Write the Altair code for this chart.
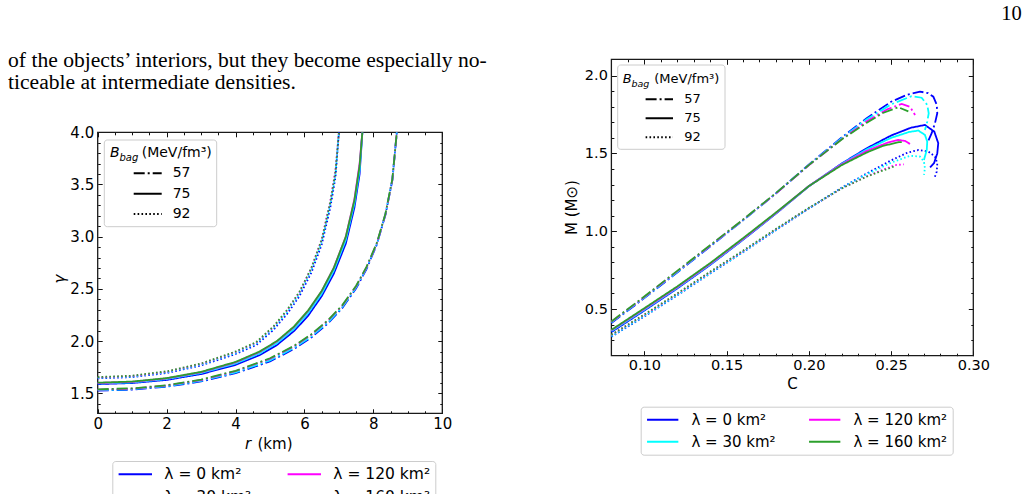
import altair as alt
import pandas as pd

W, H = 1028, 494

# ---------------------------------------------------------------- categories
LAM_DRAW = ["λ = 0 km²", "λ = 30 km²", "λ = 120 km²", "λ = 160 km²"]
LAM_COLORS = ["#0000ff", "#00ffff", "#ff00ff", "#2ca02c"]
BAGS = ["57", "75", "92"]
BAG_DASH = [[11, 3, 2, 3], [1, 0], [1.6, 2.3]]

# ---------------------------------------------------- adiabatic index gamma(r)
r_57 = [0, 1, 2, 3, 4, 5, 5.7, 6.2, 6.7, 7.1, 7.5, 7.8, 8.1, 8.35, 8.55, 8.68]
g57_l0 = [1.526, 1.535, 1.563, 1.613, 1.692, 1.805, 1.925, 2.035, 2.175, 2.318, 2.505, 2.69, 2.925, 3.21, 3.54, 4.0]
g57_l30 = [1.530, 1.539, 1.568, 1.619, 1.700, 1.815, 1.935, 2.045, 2.185, 2.328, 2.515, 2.70, 2.93, 3.215, 3.545, 4.0]
g57_l120 = [1.535, 1.544, 1.574, 1.627, 1.711, 1.830, 1.950, 2.060, 2.200, 2.340, 2.525, 2.705, 2.935, 3.215, 3.545, 4.0]
g57_l160 = [1.538, 1.547, 1.577, 1.630, 1.715, 1.835, 1.955, 2.065, 2.205, 2.345, 2.530, 2.71, 2.94, 3.22, 3.55, 4.0]

r_75 = [0, 1, 2, 3, 4, 4.7, 5.2, 5.7, 6.1, 6.5, 6.85, 7.2, 7.45, 7.6, 7.68]
g75_l0 = [1.588, 1.598, 1.628, 1.684, 1.772, 1.866, 1.962, 2.097, 2.240, 2.430, 2.645, 2.935, 3.28, 3.60, 4.0]
g75_l30 = [1.594, 1.604, 1.636, 1.694, 1.785, 1.882, 1.980, 2.118, 2.265, 2.455, 2.675, 2.970, 3.32, 3.64, 4.0]
g75_l120 = [1.598, 1.609, 1.642, 1.701, 1.795, 1.895, 1.995, 2.135, 2.285, 2.478, 2.700, 3.000, 3.36, 3.70, 4.0]
g75_l160 = [1.601, 1.612, 1.645, 1.705, 1.800, 1.900, 2.000, 2.140, 2.290, 2.480, 2.700, 3.000, 3.35, 3.68, 4.0]

r_92 = [0, 1, 2, 3, 4, 4.6, 5.1, 5.5, 5.85, 6.2, 6.5, 6.75, 6.9, 7.0]
g92_l0 = [1.643, 1.655, 1.694, 1.766, 1.876, 1.962, 2.107, 2.262, 2.428, 2.655, 2.925, 3.28, 3.57, 4.0]
g92_l30 = [1.648, 1.660, 1.700, 1.774, 1.886, 1.975, 2.122, 2.280, 2.448, 2.680, 2.950, 3.31, 3.60, 4.0]
g92_l120 = [1.652, 1.665, 1.706, 1.781, 1.895, 1.985, 2.135, 2.295, 2.465, 2.700, 2.975, 3.34, 3.64, 4.0]
g92_l160 = [1.655, 1.668, 1.710, 1.785, 1.900, 1.990, 2.140, 2.300, 2.470, 2.700, 2.970, 3.33, 3.62, 4.0]

# ------------------------------------------------- mass vs compactness M(C)
c57_l0 = [0.08, 0.10, 0.12, 0.14, 0.16, 0.18, 0.20, 0.22, 0.235, 0.25, 0.26, 0.2676, 0.2725, 0.2757, 0.2778, 0.2781, 0.2767, 0.2747, 0.272]
m57_l0 = [0.410, 0.570, 0.735, 0.902, 1.070, 1.243, 1.428, 1.602, 1.725, 1.832, 1.878, 1.897, 1.888, 1.865, 1.812, 1.758, 1.694, 1.630, 1.566]
c57_l30 = [0.08, 0.10, 0.12, 0.14, 0.16, 0.18, 0.20, 0.22, 0.235, 0.25, 0.2625, 0.2686, 0.272, 0.2729, 0.272, 0.2706]
m57_l30 = [0.414, 0.573, 0.738, 0.904, 1.071, 1.243, 1.426, 1.598, 1.718, 1.815, 1.868, 1.858, 1.812, 1.758, 1.704, 1.651]
c57_l120 = [0.08, 0.10, 0.12, 0.14, 0.16, 0.18, 0.20, 0.22, 0.235, 0.248, 0.2565, 0.2615, 0.2646]
m57_l120 = [0.418, 0.577, 0.742, 0.907, 1.073, 1.243, 1.424, 1.592, 1.705, 1.785, 1.818, 1.800, 1.747]
c57_l160 = [0.08, 0.10, 0.12, 0.14, 0.16, 0.18, 0.20, 0.22, 0.235, 0.245, 0.2544, 0.2605]
m57_l160 = [0.420, 0.580, 0.745, 0.910, 1.075, 1.245, 1.425, 1.590, 1.695, 1.760, 1.797, 1.770]

c75_l0 = [0.08, 0.10, 0.12, 0.14, 0.16, 0.18, 0.20, 0.22, 0.235, 0.25, 0.262, 0.2706, 0.2763, 0.2787, 0.2781, 0.2761, 0.2737]
m75_l0 = [0.352, 0.490, 0.632, 0.783, 0.945, 1.113, 1.289, 1.435, 1.532, 1.615, 1.665, 1.683, 1.640, 1.566, 1.500, 1.437, 1.410]
c75_l30 = [0.08, 0.10, 0.12, 0.14, 0.16, 0.18, 0.20, 0.22, 0.235, 0.25, 0.261, 0.2666, 0.2706, 0.272, 0.2717, 0.270]
m75_l30 = [0.358, 0.495, 0.636, 0.786, 0.947, 1.115, 1.289, 1.432, 1.525, 1.600, 1.638, 1.647, 1.619, 1.576, 1.522, 1.458]
c75_l120 = [0.08, 0.10, 0.12, 0.14, 0.16, 0.18, 0.20, 0.22, 0.235, 0.248, 0.2544, 0.2585, 0.2615]
m75_l120 = [0.363, 0.500, 0.640, 0.790, 0.950, 1.117, 1.290, 1.430, 1.515, 1.570, 1.587, 1.580, 1.561]
c75_l160 = [0.08, 0.10, 0.12, 0.14, 0.16, 0.18, 0.20, 0.22, 0.235, 0.245, 0.2544, 0.2565]
m75_l160 = [0.366, 0.505, 0.645, 0.795, 0.955, 1.120, 1.290, 1.425, 1.505, 1.548, 1.572, 1.573]

c92_l0 = [0.08, 0.10, 0.12, 0.14, 0.16, 0.18, 0.20, 0.22, 0.235, 0.25, 0.26, 0.2666, 0.2727, 0.2767, 0.2781, 0.2778, 0.2763]
m92_l0 = [0.322, 0.452, 0.588, 0.728, 0.865, 1.007, 1.146, 1.280, 1.370, 1.455, 1.505, 1.522, 1.512, 1.480, 1.437, 1.383, 1.340]
c92_l30 = [0.08, 0.10, 0.12, 0.14, 0.16, 0.18, 0.20, 0.22, 0.235, 0.25, 0.2615, 0.2676, 0.27, 0.2706, 0.27]
m92_l30 = [0.325, 0.455, 0.590, 0.730, 0.866, 1.008, 1.146, 1.278, 1.365, 1.440, 1.485, 1.480, 1.447, 1.405, 1.362]
c92_l120 = [0.08, 0.10, 0.12, 0.14, 0.16, 0.18, 0.20, 0.22, 0.235, 0.245, 0.2525, 0.2577]
m92_l120 = [0.333, 0.462, 0.597, 0.737, 0.872, 1.012, 1.148, 1.275, 1.352, 1.395, 1.425, 1.430]
c92_l160 = [0.08, 0.10, 0.12, 0.14, 0.16, 0.18, 0.20, 0.22, 0.235, 0.245, 0.2524]
m92_l160 = [0.335, 0.465, 0.600, 0.740, 0.875, 1.015, 1.150, 1.275, 1.350, 1.390, 1.418]

# ------------------------------------------------------------ build tables
gamma_series = {
    "57": (r_57, [g57_l0, g57_l30, g57_l120, g57_l160]),
    "75": (r_75, [g75_l0, g75_l30, g75_l120, g75_l160]),
    "92": (r_92, [g92_l0, g92_l30, g92_l120, g92_l160]),
}
mc_series = {
    "57": [(c57_l0, m57_l0), (c57_l30, m57_l30), (c57_l120, m57_l120), (c57_l160, m57_l160)],
    "75": [(c75_l0, m75_l0), (c75_l30, m75_l30), (c75_l120, m75_l120), (c75_l160, m75_l160)],
    "92": [(c92_l0, m92_l0), (c92_l30, m92_l30), (c92_l120, m92_l120), (c92_l160, m92_l160)],
}

g_rows, m_rows = [], []
for k, lam in enumerate(LAM_DRAW):          # blue first, green drawn last
    for bag in BAGS:
        rr, gs = gamma_series[bag]
        for i, (x, y) in enumerate(zip(rr, gs[k])):
            g_rows.append({"x": x, "y": y, "lam": lam, "bag": bag, "i": i})
        cc, mm = mc_series[bag][k]
        for i, (x, y) in enumerate(zip(cc, mm)):
            m_rows.append({"x": x, "y": y, "lam": lam, "bag": bag, "i": i})
gamma_df = pd.DataFrame(g_rows)
mc_df = pd.DataFrame(m_rows)
one = pd.DataFrame({"k": [0]})

FONT = "DejaVu Sans"
SERIF = "Liberation Serif"


def steps(a, b, d, skip):
    out, v = [], a
    while v <= b + 1e-9:
        if all(abs(v - s) > 1e-9 for s in skip):
            out.append(round(v, 4))
        v += d
    return out


def panel(df, px, py, dom_x, dom_y, xmaj, xmin, ymaj, ymin, xfmt, yfmt, lab_size,
          L, l, color_leg, dash_leg):
    """One framed panel: curves, frame and inward major/minor ticks on all sides."""
    x0, x1 = px
    ytop, ybot = py
    sx = alt.Scale(domain=dom_x, range=[x0, x1], nice=False, zero=False)
    sy = alt.Scale(domain=dom_y, range=[ybot, ytop], nice=False, zero=False)

    def ax(orient, values, size, labels=False, fmt=None, pad=3):
        if orient == "bottom":
            off = -(H - ybot) - size
        elif orient == "top":
            off = -ytop - size
        elif orient == "left":
            off = -x0 - size
        else:
            off = -(W - x1) - size
        kw = dict(orient=orient, values=values, tickSize=size, offset=off, domain=False,
                  grid=False, ticks=True, tickColor="#111111", tickWidth=1, title=None,
                  labels=labels)
        if labels:
            kw.update(format=fmt, labelFont=FONT, labelFontSize=lab_size, labelColor="black",
                      labelPadding=pad, labelFlush=False, labelOverlap=False)
        return alt.Axis(**kw)

    frame_df = pd.DataFrame({"x0": [dom_x[0]], "x1": [dom_x[1]], "y0": [dom_y[0]], "y1": [dom_y[1]]})

    frame = alt.Chart(frame_df).mark_rect(fillOpacity=0, stroke="#1a1a1a", strokeWidth=1.3).encode(
        x=alt.X("x0:Q", scale=sx, axis=None), x2="x1",
        y=alt.Y("y0:Q", scale=sy, axis=None), y2="y1",
    )

    lines = alt.Chart(df).mark_line(strokeWidth=1.8, strokeCap="butt").encode(
        x=alt.X("x:Q", scale=sx, axis=ax("bottom", xmaj, L, True, xfmt, 3)),
        y=alt.Y("y:Q", scale=sy, axis=ax("left", ymaj, L, True, yfmt, 4)),
        color=alt.Color("lam:N", scale=alt.Scale(domain=LAM_DRAW, range=LAM_COLORS), legend=color_leg),
        strokeDash=alt.StrokeDash("bag:N", scale=alt.Scale(domain=BAGS, range=BAG_DASH), legend=dash_leg),
        order=alt.Order("i:Q"),
    )

    def ticks(xo, xv, xs, yo, yv, ys):
        return alt.Chart(frame_df).mark_point(opacity=0).encode(
            x=alt.X("x0:Q", scale=sx, axis=ax(xo, xv, xs)),
            y=alt.Y("y0:Q", scale=sy, axis=ax(yo, yv, ys)),
        )

    return alt.layer(
        frame,
        lines,
        ticks("bottom", xmin, l, "left", ymin, l),
        ticks("top", xmaj, L, "right", ymaj, L),
        ticks("top", xmin, l, "right", ymin, l),
    ).resolve_axis(x="independent", y="independent")


def txt(s, x, y, size, font=FONT, style="normal", align="left", baseline="alphabetic", angle=0):
    kw = dict(text=s, fontSize=size, font=font, fontStyle=style, align=align,
              baseline=baseline, color="black")
    if angle:
        kw["angle"] = angle
    return alt.Chart(one).mark_text(**kw).encode(x=alt.value(x), y=alt.value(y))


def box(x0, y0, x1, y1):
    return alt.Chart(one).mark_rect(cornerRadius=3, fill="white", stroke="#cccccc", strokeWidth=1).encode(
        x=alt.value(x0), x2=alt.value(x1), y=alt.value(y0), y2=alt.value(y1))


def color_legend(lx, ly, size, sym, off, colpad):
    # entries fill column by column: (0, 30) on the left, (120, 160) on the right
    return alt.Legend(title=None, orient="none", legendX=lx, legendY=ly, columns=2,
                      columnPadding=colpad, rowPadding=6, padding=5, clipHeight=16,
                      strokeColor="#cccccc", fillColor="white", cornerRadius=3,
                      symbolType="stroke", symbolSize=sym * sym, symbolStrokeWidth=2,
                      labelFont=FONT, labelFontSize=size, labelColor="black", labelOffset=off)


def dash_legend(lx, ly, size, sym, clip, rowpad):
    return alt.Legend(title=None, orient="none", legendX=lx, legendY=ly, padding=0,
                      clipHeight=clip, rowPadding=rowpad, symbolType="stroke",
                      symbolSize=sym * sym, symbolStrokeWidth=2, symbolStrokeColor="black",
                      labelFont=FONT, labelFontSize=size, labelColor="black", labelOffset=10)


# ------------------------------------------------------------ left panel
gamma_panel = panel(
    gamma_df, (97.7, 442.3), (132.3, 413.3), [0, 10], [1.308, 4.0],
    [0, 2, 4, 6, 8, 10], steps(0.5, 9.5, 0.5, [2, 4, 6, 8]),
    [1.5, 2.0, 2.5, 3.0, 3.5, 4.0], steps(1.4, 3.9, 0.1, [1.5, 2.0, 2.5, 3.0, 3.5]),
    "d", ".1f", 15, 4.5, 2.5,
    color_legend(112.3, 461, 15.5, 33.4, 11, 35),
    dash_legend(132.7, 165.3, 14, 28, 16, 4.35),
)

# ------------------------------------------------------------ right panel
mc_panel = panel(
    mc_df, (611.4, 973.3), (59.3, 355.7), [0.08, 0.30], [0.2, 2.105],
    [0.10, 0.15, 0.20, 0.25, 0.30], steps(0.09, 0.29, 0.01, [0.10, 0.15, 0.20, 0.25]),
    [0.5, 1.0, 1.5, 2.0], steps(0.3, 2.0, 0.1, [0.5, 1.0, 1.5, 2.0]),
    ".2f", ".1f", 14.5, 5, 2.5,
    color_legend(640.7, 406.7, 15, 31.3, 11.7, 32),
    dash_legend(644.3, 91.8, 13, 27.4, 15, 4),
)

annotations = [
    # running text and page number
    txt("of the objects’ interiors, but they become especially no-", 8, 66.7, 21.6, font=SERIF),
    txt("ticeable at intermediate densities.", 8, 89.3, 21.6, font=SERIF),
    txt("10", 1021.7, 20, 20.5, font=SERIF, align="right"),
    # left panel titles
    txt("r", 245, 449, 15, style="italic"),
    txt("(km)", 257.5, 449, 15),
    txt("γ", 60, 279, 15, style="italic", align="center", baseline="middle", angle=270),
    box(104.3, 140, 216.7, 226.7),
    txt("B", 110, 156.7, 14, style="italic"),
    txt("bag", 119.5, 160.5, 10, style="italic"),
    txt("(MeV/fm³)", 141.7, 156.7, 14),
    # right panel titles
    txt("C", 792.5, 384, 15, align="center", baseline="middle"),
    txt("M (M⊙)", 571.5, 207.5, 15, align="center", baseline="middle", angle=270),
    box(617.7, 65, 725, 149.3),
    txt("B", 622.7, 83.3, 13, style="italic"),
    txt("bag", 631.5, 87, 9.5, style="italic"),
    txt("(MeV/fm³)", 654.3, 83.3, 13),
]

chart = alt.layer(gamma_panel, mc_panel, *annotations).resolve_scale(
    x="independent", y="independent", color="independent", strokeDash="independent"
).resolve_axis(
    x="independent", y="independent"
).resolve_legend(
    color="independent", strokeDash="independent"
).properties(
    width=W, height=H, padding=0, autosize=alt.AutoSizeParams(type="none"),
    background="white",
).configure_view(stroke=None)

chart.save("out.html", embed_options={"renderer": "svg", "actions": False})
